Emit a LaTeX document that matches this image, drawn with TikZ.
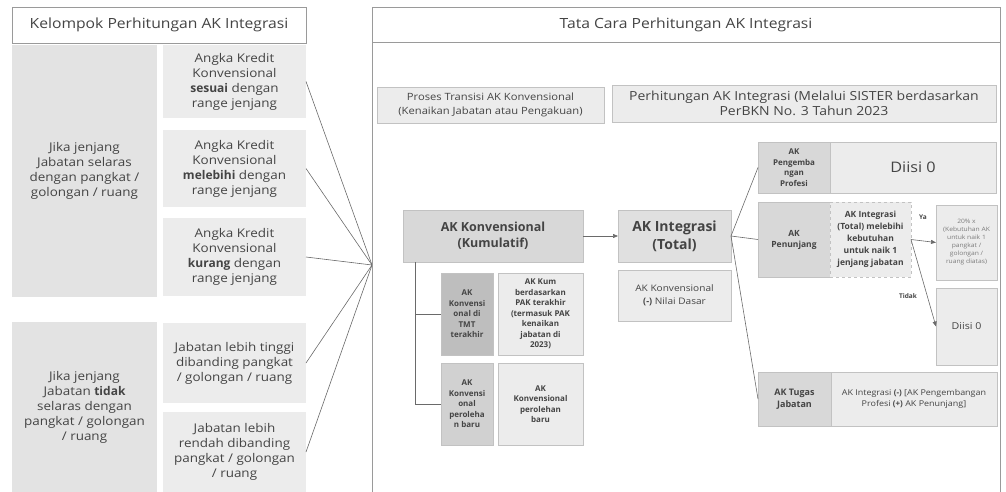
\documentclass[tikz,border=0pt]{standalone}
\usepackage{fontspec}
\setmainfont{Open Sans}[UprightFeatures={FakeStretch=1.12}]
\usetikzlibrary{arrows.meta}
\definecolor{txt}{HTML}{444444}
\definecolor{edge}{HTML}{9A9A9A}
\definecolor{lite}{HTML}{ECECEC}
\definecolor{leftbg}{HTML}{E3E3E3}
\definecolor{mid}{HTML}{D8D8D8}
\definecolor{dark}{HTML}{BEBEBE}
\definecolor{conn}{HTML}{6A6A6A}
\newcommand\bx[7]{\node[#6, minimum width={(#4-#2)*1pt}, minimum height={(#5-#3)*1pt}] (#1) at ({(#2+#4)/2},{(#3+#5)/2}) {#7};}
\newcommand\fs[2]{\fontsize{#1}{#2}\selectfont}
\tikzset{
  base/.style={inner sep=0pt, outer sep=0pt, align=center, text=txt},
  titlebox/.style={base, draw=edge, fill=white, line width=0.6pt, font=\fs{14}{17}},
  leftbox/.style={base, fill=leftbg, font=\fs{12}{15}},
  smallbox/.style={base, fill=lite, font=\fs{12}{15}},
  litebox/.style={base, fill=lite, draw=edge!60, line width=0.4pt},
  midbox/.style={base, fill=mid, draw=edge!60, line width=0.4pt},
  darkbox/.style={base, fill=dark, draw=edge!60, line width=0.4pt},
  conline/.style={draw=conn, line width=0.6pt},
  arr/.style={conline, -{Triangle[length=5pt,width=4pt]}},
}
\begin{document}
\begin{tikzpicture}[x=1pt,y=-1pt]
\useasboundingbox (0,0) rectangle (1006,492);
% left panel
\bx{t1}{12}{7}{306}{43}{titlebox}{Kelompok Perhitungan AK Integrasi}
\bx{L1}{12}{45}{157}{297}{leftbox}{Jika jenjang\\Jabatan selaras\\dengan pangkat /\\golongan / ruang}
\bx{a}{163}{45}{306}{118}{smallbox}{Angka Kredit\\Konvensional\\\textbf{sesuai} dengan\\range jenjang}
\bx{b}{163}{130}{306}{207}{smallbox}{Angka Kredit\\Konvensional\\\textbf{melebihi} dengan\\range jenjang}
\bx{c}{163}{218}{306}{296}{smallbox}{Angka Kredit\\Konvensional\\\textbf{kurang} dengan\\range jenjang}
\bx{L2}{12}{322}{157}{492}{leftbox}{Jika jenjang\\Jabatan \textbf{tidak}\\selaras dengan\\pangkat / golongan\\/ ruang}
\bx{d}{163}{323}{306}{403}{smallbox}{Jabatan lebih tinggi\\dibanding pangkat\\/ golongan / ruang}
\bx{e}{163}{412}{306}{492}{smallbox}{Jabatan lebih\\rendah dibanding\\pangkat / golongan\\/ ruang}
\coordinate (hub) at (372,265);
\foreach \n in {a,b,c,d,e} \draw[conline] (\n.east) -- (hub);
% right panel
\bx{t2}{372}{7}{1000}{42}{titlebox}{Tata Cara Perhitungan AK Integrasi}
\draw[draw=edge, line width=0.6pt] (372,42) -- (372,500) (1000,42) -- (1000,500);
\bx{pr}{377}{87}{604}{123}{litebox, font=\fs{10}{14}}{Proses Transisi AK Konvensional\\(Kenaikan Jabatan atau Pengakuan)}
\bx{ph}{612}{85}{996}{122}{litebox, font=\fs{12.5}{14.5}}{Perhitungan AK Integrasi (Melalui SISTER berdasarkan\\PerBKN No. 3 Tahun 2023}
\bx{kum}{403}{210}{583}{262}{midbox, font=\bfseries\fs{12.5}{16}}{AK Konvensional\\(Kumulatif)}
\bx{tot}{618}{210}{731}{262}{base, fill=mid!80, draw=edge!60, line width=0.4pt, font=\bfseries\fs{14}{18}}{AK Integrasi\\(Total)}
\bx{nd}{618}{270}{731}{321}{litebox, font=\fs{9}{13}}{AK Konvensional\\\textbf{(-)} Nilai Dasar}
\bx{tmt}{441}{273}{493}{355}{darkbox, font=\bfseries\fs{8}{10.5}}{AK\\Konvensi\\onal di\\TMT\\terakhir}
\bx{kp}{498}{273}{583}{355}{litebox, font=\bfseries\fs{8}{10.5}}{AK Kum\\berdasarkan\\PAK terakhir\\(termasuk PAK\\kenaikan\\jabatan di\\2023)}
\bx{pb1}{441}{363}{493}{445}{base, fill=dark!70, draw=edge!60, line width=0.4pt, font=\bfseries\fs{8}{10.5}}{AK\\Konvensi\\onal\\peroleha\\n baru}
\bx{pb2}{498}{363}{583}{445}{litebox, font=\bfseries\fs{8}{10.5}}{AK\\Konvensional\\perolehan\\baru}
\coordinate (tr) at (415,262);
\draw[conline] (tr) |- (tmt.west);
\draw[conline] (tr) |- (pb1.west);
\draw[arr] (kum) -- (tot);
% right column
\bx{pp}{758}{142}{830}{193}{midbox, font=\bfseries\fs{8}{10.5}}{AK\\Pengemba\\ngan\\Profesi}
\bx{pp2}{830}{142}{996}{193}{litebox, font=\fs{14.5}{18}}{Diisi 0}
\bx{pn}{758}{202}{830}{277}{midbox, font=\bfseries\fs{8.5}{11}}{AK\\Penunjang}
\bx{pnq}{830}{202}{911}{277}{litebox, dashed, font=\bfseries\fs{8.5}{12}}{AK Integrasi\\(Total) melebihi\\kebutuhan\\untuk naik 1\\jenjang jabatan}
\bx{p20}{936}{205}{997}{280}{litebox, text=txt!70, font=\fs{6}{8}}{20\% x\\(Kebutuhan AK\\untuk naik 1\\pangkat /\\golongan /\\ruang diatas)}
\bx{d0}{936}{288}{997}{365}{litebox, font=\fs{9.5}{12}}{Diisi 0}
\bx{tj}{758}{372}{831}{426}{midbox, font=\bfseries\fs{9}{11.5}}{AK Tugas\\Jabatan}
\bx{tj2}{831}{372}{997}{426}{litebox, font=\fs{8}{11}}{AK Integrasi \textbf{(-)} [AK Pengembangan\\Profesi \textbf{(+)} AK Penunjang]}
\draw[conline] (tot.east) -- (pp.west);
\draw[conline] (tot.east) -- (pn.west);
\draw[conline] (tot.east) -- (tj.west);
\draw[arr] (pnq.east) -- (p20.west);
\draw[arr] (pnq.east) -- (d0.west);
\node[base, font=\bfseries\fs{6.5}{8}] (ya) at (923,217) {Ya};
\node[base, font=\bfseries\fs{6.5}{8}] (tidak) at (908,296) {Tidak};
\end{tikzpicture}
\end{document}
